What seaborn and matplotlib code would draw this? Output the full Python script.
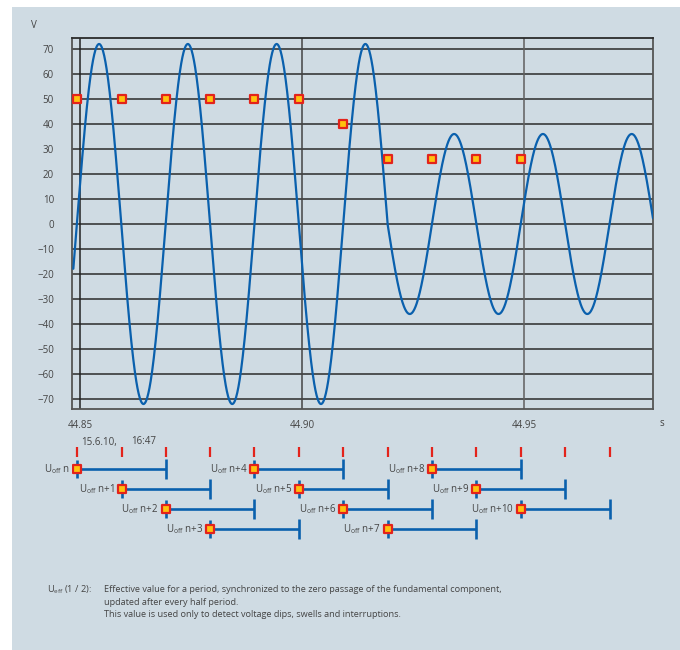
import numpy as np
import pandas as pd
import matplotlib
matplotlib.use("Agg")
import matplotlib.pyplot as plt
import seaborn as sns
from matplotlib.patches import Rectangle

sns.set_style("white")
plt.rcParams['font.family'] = ['Open Sans', 'DejaVu Sans']
plt.rcParams['mathtext.fontset'] = 'custom'
plt.rcParams['mathtext.rm'] = 'Open Sans'

BG = "#cfdbe3"
BLUE = "#0a60ad"
RED = "#e3231b"
YELLOW = "#ffc20e"
TXT = "#444444"

# --- data ---
freq = 50.0                      # Hz
t_first_zero = 44.8492           # first rising zero passage (s)
t_start, t_end = 44.8484, 44.9790
# amplitude of each half period (first entry = the partial half period at the left)
half_amps = [72, 72, 72, 72, 72, 72, 72, 72, 36, 36, 36, 36, 36, 36]

marker_t = [44.8493, 44.8593, 44.8692, 44.8792, 44.8892, 44.8992,
            44.9092, 44.9192, 44.9292, 44.9392, 44.9492]
marker_v = [50, 50, 50, 50, 50, 50, 40, 26, 26, 26, 26]

tick_t = marker_t + [44.9592, 44.9692]          # red half-period marks
bar_labels = ["n", "n+1", "n+2", "n+3", "n+4", "n+5", "n+6",
              "n+7", "n+8", "n+9", "n+10"]
bar_rows = [0, 1, 2, 3, 0, 1, 2, 3, 0, 1, 2]
bar_start = marker_t
bar_end = tick_t[2:]

x_ticks = [44.85, 44.90, 44.95]
x_ticklabels = ["44.85", "44.90", "44.95"]
y_ticks = [70, 60, 50, 40, 30, 20, 10, 0, -10, -20, -30, -40, -50, -60, -70]

note_lines = [
    "Effective value for a period, synchronized to the zero passage of the fundamental component,",
    "updated after every half period.",
    "This value is used only to detect voltage dips, swells and interruptions.",
]

# waveform samples
t = np.linspace(t_start, t_end, 1500)
half = np.floor((t - t_first_zero) * 2 * freq).astype(int) + 1
amp = np.array(half_amps)[np.clip(half, 0, len(half_amps) - 1)]
wave = pd.DataFrame({"t": t, "v": amp * np.sin(2 * np.pi * freq * (t - t_first_zero))})

W, H = 680, 650
fig = plt.figure(figsize=(6.8, 6.5), dpi=100, facecolor="white")
fig.patches.append(Rectangle((12 / W, 0), 1, 1 - 7 / H, transform=fig.transFigure,
                             facecolor=BG, edgecolor="none", zorder=-10))

# main chart
ax = fig.add_axes([72 / W, 1 - 409 / H, (653 - 72) / W, (409 - 38) / H])
ax.set_facecolor(BG)
ax.set_xlim(44.8481, 44.9790)
ax.set_ylim(-74, 74.4)
ax.set_yticks(y_ticks)
ax.set_xticks(x_ticks)
ax.set_xticklabels(x_ticklabels)
ax.tick_params(axis="y", length=0, pad=13, labelsize=7, labelcolor=TXT)
ax.tick_params(axis="x", length=0, pad=8, labelsize=7, labelcolor=TXT)
for y in y_ticks:
    ax.axhline(y, color="#2b2b2b", lw=1.1, zorder=1)
for x, c in zip(x_ticks, ["#222222", "#444444", "#5f5f5f"]):
    ax.axvline(x, color=c, lw=1.1, zorder=1)
for s in ax.spines.values():
    s.set_color("#555555")
    s.set_linewidth(1.3)
ax.spines["top"].set_color("#2b2b2b")

sns.lineplot(data=wave, x="t", y="v", ax=ax, color=BLUE, lw=1.6, zorder=3)
sns.scatterplot(x=marker_t, y=marker_v, ax=ax, marker="s", s=40, color=YELLOW,
                edgecolor=RED, linewidth=1.6, zorder=4)
ax.set_xlabel("")
ax.set_ylabel("")
fig.text(34 / W, 1 - 25 / H, "V", fontsize=7, color=TXT, ha="center", va="center")
fig.text(662 / W, 1 - 424 / H, "s", fontsize=7, color=TXT, ha="center", va="center")

# lower timeline
ax2 = fig.add_axes([72 / W, 1 - 540 / H, (653 - 72) / W, 100 / H])
ax2.set_xlim(ax.get_xlim())
ax2.set_ylim(3.55, -1.45)
ax2.axis("off")
ax2.vlines(tick_t, -1.1, -0.6, color=RED, lw=1.6)
ax2.hlines(bar_rows, bar_start, bar_end, color=BLUE, lw=1.9)
ax2.vlines(bar_start, np.array(bar_rows) - 0.45, np.array(bar_rows) + 0.45, color=BLUE, lw=1.9)
ax2.vlines(bar_end, np.array(bar_rows) - 0.5, np.array(bar_rows) + 0.5, color=BLUE, lw=1.9)
sns.scatterplot(x=bar_start, y=bar_rows, ax=ax2, marker="s", s=40, color=YELLOW,
                edgecolor=RED, linewidth=1.6, zorder=4)
for x0, r, lab in zip(bar_start, bar_rows, bar_labels):
    ax2.annotate(r"U$_\mathregular{off}$ " + lab, (x0, r), xytext=(-5, 0),
                 textcoords="offset points", ha="right", va="center",
                 fontsize=7, color=TXT)
fig.text(81 / W, 1 - 442 / H, "15.6.10,", fontsize=7, color=TXT, va="center")
fig.text(131 / W, 1 - 442 / H, "16:47", fontsize=7, color=TXT, va="center")

# footnote
fig.text(47 / W, 1 - 592 / H, r"U$_\mathregular{eff}$ (1 / 2):", fontsize=6.6,
         color=TXT, va="baseline")
for i, line in enumerate(note_lines):
    fig.text(104 / W, 1 - (592 + 12.7 * i) / H, line, fontsize=6.6,
             color=TXT, va="baseline")

fig.savefig("out.png", dpi=100, facecolor="white")
